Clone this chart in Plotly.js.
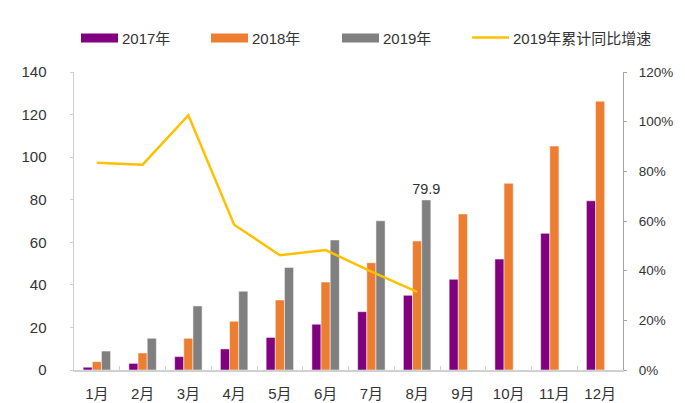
<!DOCTYPE html>
<html><head><meta charset="utf-8">
<script src="https://cdn.plot.ly/plotly-3.0.1.min.js"></script>
<style>html,body{margin:0;padding:0;background:#fff}#c{width:685px;height:403px}</style>
</head><body><div id="c"></div>
<script>
const months = ['1月','2月','3月','4月','5月','6月','7月','8月','9月','10月','11月','12月'];
const v2017 = [1.3, 3.1, 6.3, 9.9, 15.3, 21.5, 27.4, 35.1, 42.6, 52.1, 64.2, 79.5];
const v2018 = [3.9, 8.0, 14.9, 22.9, 32.9, 41.3, 50.4, 60.6, 73.3, 87.7, 105.2, 126.3];
const v2019 = [8.9, 14.9, 30.1, 37.0, 48.2, 61.1, 70.1, 79.9, null, null, null, null];
const growth2019 = [0.835, 0.827, 1.026, 0.585, 0.462, 0.483, 0.396, 0.315];
const labels2019 = ['', '', '', '', '', '', '', '79.9', '', '', '', ''];
const legendNames = ['2017年', '2018年', '2019年', '2019年累计同比增速'];
const colors = ['#800080', '#ED7D31', '#808080', '#FFC000'];

const fam = 'Liberation Sans, Arial, Noto Sans CJK SC, sans-serif';
const narrow = 'Liberation Sans Narrow, Arial Narrow, Liberation Sans, Noto Sans CJK SC, sans-serif';
const txt = '#333';

const traces = [
  {type: 'bar', name: legendNames[0], x: months, y: v2017, marker: {color: colors[0], line: {color: '#fff', width: 0.5}}, showlegend: false, hoverinfo: 'none'},
  {type: 'bar', name: legendNames[1], x: months, y: v2018, marker: {color: colors[1], line: {color: '#fff', width: 0.5}}, showlegend: false, hoverinfo: 'none'},
  {type: 'bar', name: legendNames[2], x: months, y: v2019, marker: {color: colors[2], line: {color: '#fff', width: 0.5}}, showlegend: false,
   text: labels2019, textposition: 'outside', constraintext: 'none', cliponaxis: false,
   textfont: {family: fam, size: 14.5, color: txt}, hoverinfo: 'none'},
  {type: 'scatter', mode: 'lines', name: legendNames[3], x: months.slice(0, growth2019.length), y: growth2019, yaxis: 'y2',
   line: {color: colors[3], width: 2.5}, showlegend: false, hoverinfo: 'none'}
];

// custom legend (wide swatches like the original), pixel positions converted to paper coords
const plotL = 74, plotW = 549, plotTop = 72, plotH = 298;
function px(p) { return (p - plotL) / plotW; }
function py(p) { return (plotTop + plotH - p) / plotH; }
const legX = [81, 211, 342, 472];
const shapes = [];
const annotations = [];
legendNames.forEach((n, i) => {
  if (i < 3) {
    shapes.push({type: 'rect', xref: 'paper', yref: 'paper', x0: px(legX[i]), x1: px(legX[i] + 37),
      y0: py(42.5), y1: py(33.5), fillcolor: colors[i], line: {width: 0}});
  } else {
    shapes.push({type: 'line', xref: 'paper', yref: 'paper', x0: px(legX[i]), x1: px(legX[i] + 37),
      y0: py(37.5), y1: py(37.5), line: {color: colors[i], width: 2.5}});
  }
  annotations.push({xref: 'paper', yref: 'paper', x: px(legX[i] + 39), y: py(38.5), xanchor: 'left', yanchor: 'middle',
    text: n, showarrow: false, font: {family: fam, size: 15, color: txt}});
});

const tickNarrow = {family: narrow, size: 15, color: txt};
const layout = {
  width: 685, height: 403,
  margin: {l: 74, r: 62, t: 72, b: 33},
  paper_bgcolor: '#fff', plot_bgcolor: '#fff',
  font: {family: fam, size: 14, color: txt},
  barmode: 'group', bargap: 0.4, bargroupgap: 0,
  showlegend: false,
  xaxis: {type: 'category', showline: true, linecolor: '#d0d0d0', linewidth: 1.5,
    ticks: 'inside', tickson: 'boundaries', ticklen: 4, tickcolor: '#d0d0d0',
    showgrid: false, zeroline: false, tickfont: tickNarrow, ticklabelstandoff: 9, fixedrange: true},
  yaxis: {range: [0, 140], dtick: 20, showline: true, linecolor: '#d0d0d0', linewidth: 1.5,
    ticks: 'outside', ticklen: 3, tickcolor: '#d0d0d0', showgrid: false, zeroline: false,
    tickfont: tickNarrow, ticklabelstandoff: 20},
  yaxis2: {range: [0, 1.2], dtick: 0.2, tickformat: '.0%', overlaying: 'y', side: 'right',
    showline: true, linecolor: '#a6a6a6', linewidth: 1, ticks: 'outside', ticklen: 3, tickcolor: '#a6a6a6',
    showgrid: false, zeroline: false, tickfont: {family: fam, size: 13.5, color: txt}, ticklabelstandoff: 9},
  shapes: shapes,
  annotations: annotations
};
Plotly.newPlot('c', traces, layout, {staticPlot: true});
</script></body></html>
